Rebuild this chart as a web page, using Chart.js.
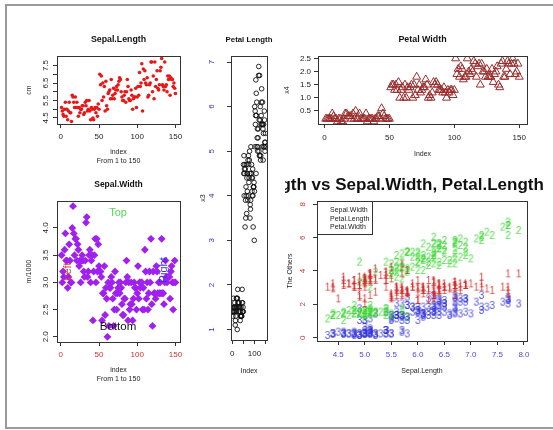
<!DOCTYPE html>
<html>
<head>
<meta charset="utf-8">
<script src="https://cdn.jsdelivr.net/npm/chart.js@4"></script>
<style>
  html, body { margin: 0; padding: 0; background: #fff; }
  #page { position: relative; width: 553px; height: 430px; overflow: hidden; }
  #frame { position: absolute; left: 5px; top: 4px; width: 600px; height: 421px; border: 2px solid #9a9a9a; }
  canvas { position: absolute; }
</style>
</head>
<body>
<div id="page">
  <div id="frame"></div>
  <canvas id="c1"></canvas>
  <canvas id="c2"></canvas>
  <canvas id="c3"></canvas>
  <canvas id="c4"></canvas>
  <canvas id="c5"></canvas>
</div>
<script>
// iris measurements, rows 1..150
const sepalLength = [
  5.1,4.9,4.7,4.6,5.0,5.4,4.6,5.0,4.4,4.9, 5.4,4.8,4.8,4.3,5.8,5.7,5.4,5.1,5.7,5.1,
  5.4,5.1,4.6,5.1,4.8,5.0,5.0,5.2,5.2,4.7, 4.8,5.4,5.2,5.5,4.9,5.0,5.5,4.9,4.4,5.1,
  5.0,4.5,4.4,5.0,5.1,4.8,5.1,4.6,5.3,5.0, 7.0,6.4,6.9,5.5,6.5,5.7,6.3,4.9,6.6,5.2,
  5.0,5.9,6.0,6.1,5.6,6.7,5.6,5.8,6.2,5.6, 5.9,6.1,6.3,6.1,6.4,6.6,6.8,6.7,6.0,5.7,
  5.5,5.5,5.8,6.0,5.4,6.0,6.7,6.3,5.6,5.5, 5.5,6.1,5.8,5.0,5.6,5.7,5.7,6.2,5.1,5.7,
  6.3,5.8,7.1,6.3,6.5,7.6,4.9,7.3,6.7,7.2, 6.5,6.4,6.8,5.7,5.8,6.4,6.5,7.7,7.7,6.0,
  6.9,5.6,7.7,6.3,6.7,7.2,6.2,6.1,6.4,7.2, 7.4,7.9,6.4,6.3,6.1,7.7,6.3,6.4,6.0,6.9,
  6.7,6.9,5.8,6.8,6.7,6.7,6.3,6.5,6.2,5.9
];
const sepalWidth = [
  3.5,3.0,3.2,3.1,3.6,3.9,3.4,3.4,2.9,3.1, 3.7,3.4,3.0,3.0,4.0,4.4,3.9,3.5,3.8,3.8,
  3.4,3.7,3.6,3.3,3.4,3.0,3.4,3.5,3.4,3.2, 3.1,3.4,4.1,4.2,3.1,3.2,3.5,3.6,3.0,3.4,
  3.5,2.3,3.2,3.5,3.8,3.0,3.8,3.2,3.7,3.3, 3.2,3.2,3.1,2.3,2.8,2.8,3.3,2.4,2.9,2.7,
  2.0,3.0,2.2,2.9,2.9,3.1,3.0,2.7,2.2,2.5, 3.2,2.8,2.5,2.8,2.9,3.0,2.8,3.0,2.9,2.6,
  2.4,2.4,2.7,2.7,3.0,3.4,3.1,2.3,3.0,2.5, 2.6,3.0,2.6,2.3,2.7,3.0,2.9,2.9,2.5,2.8,
  3.3,2.7,3.0,2.9,3.0,3.0,2.5,2.9,2.5,3.6, 3.2,2.7,3.0,2.5,2.8,3.2,3.0,3.8,2.6,2.2,
  3.2,2.8,2.8,2.7,3.3,3.2,2.8,3.0,2.8,3.0, 2.8,3.8,2.8,2.8,2.6,3.0,3.4,3.1,3.0,3.1,
  3.1,3.1,2.7,3.2,3.3,3.0,2.5,3.0,3.4,3.0
];
const petalLength = [
  1.4,1.4,1.3,1.5,1.4,1.7,1.4,1.5,1.4,1.5, 1.5,1.6,1.4,1.1,1.2,1.5,1.3,1.4,1.7,1.5,
  1.7,1.5,1.0,1.7,1.9,1.6,1.6,1.5,1.4,1.6, 1.6,1.5,1.5,1.4,1.5,1.2,1.3,1.4,1.3,1.5,
  1.3,1.3,1.3,1.6,1.9,1.4,1.6,1.4,1.5,1.4, 4.7,4.5,4.9,4.0,4.6,4.5,4.7,3.3,4.6,3.9,
  3.5,4.2,4.0,4.7,3.6,4.4,4.5,4.1,4.5,3.9, 4.8,4.0,4.9,4.7,4.3,4.4,4.8,5.0,4.5,3.5,
  3.8,3.7,3.9,5.1,4.5,4.5,4.7,4.4,4.1,4.0, 4.4,4.6,4.0,3.3,4.2,4.2,4.2,4.3,3.0,4.1,
  6.0,5.1,5.9,5.6,5.8,6.6,4.5,6.3,5.8,6.1, 5.1,5.3,5.5,5.0,5.1,5.3,5.5,6.7,6.9,5.0,
  5.7,4.9,6.7,4.9,5.7,6.0,4.8,4.9,5.6,5.8, 6.1,6.4,5.6,5.1,5.6,6.1,5.6,5.5,4.8,5.4,
  5.6,5.1,5.1,5.9,5.7,5.2,5.0,5.2,5.4,5.1
];
const petalWidth = [
  0.2,0.2,0.2,0.2,0.2,0.4,0.3,0.2,0.2,0.1, 0.2,0.2,0.1,0.1,0.2,0.4,0.4,0.3,0.3,0.3,
  0.2,0.4,0.2,0.5,0.2,0.2,0.4,0.2,0.2,0.2, 0.2,0.4,0.1,0.2,0.2,0.2,0.2,0.1,0.2,0.2,
  0.3,0.3,0.2,0.6,0.4,0.3,0.2,0.2,0.2,0.2, 1.4,1.5,1.5,1.3,1.5,1.3,1.6,1.0,1.3,1.4,
  1.0,1.5,1.0,1.4,1.3,1.4,1.5,1.0,1.5,1.1, 1.8,1.3,1.5,1.2,1.3,1.4,1.4,1.7,1.5,1.0,
  1.1,1.0,1.2,1.6,1.5,1.6,1.5,1.3,1.3,1.3, 1.2,1.4,1.2,1.0,1.3,1.2,1.3,1.3,1.1,1.3,
  2.5,1.9,2.1,1.8,2.2,2.1,1.7,1.8,1.8,2.5, 2.0,1.9,2.1,2.0,2.4,2.3,1.8,2.2,2.3,1.5,
  2.3,2.0,2.0,1.8,2.1,1.8,1.8,1.8,2.1,1.6, 1.9,2.0,2.2,1.5,1.4,2.3,2.4,1.8,1.8,2.1,
  2.4,2.3,1.9,2.3,2.5,2.3,1.9,2.0,2.3,1.8
];

// tick positions and their labels ('' = tick mark only)
const indexTicks = [0, 50, 100, 150];
const indexLabels = ['0', '50', '100', '150'];
const indexLabelsSparse = ['0', '', '100', ''];
const slTicks = [4.5, 5, 5.5, 6, 6.5, 7, 7.5];
const slLabels = ['4.5', '', '5.5', '', '6.5', '', '7.5'];
const plTicks = [1, 2, 3, 4, 5, 6, 7];
const plLabels = ['1', '2', '3', '4', '5', '6', '7'];
const pwTicks = [0.5, 1, 1.5, 2, 2.5];
const pwLabels = ['0.5', '1.0', '1.5', '2.0', '2.5'];
const swTicks = [2, 2.5, 3, 3.5, 4];
const swLabels = ['2.0', '2.5', '3.0', '3.5', '4.0'];
const othersYTicks = [0, 2, 4, 6, 8];
const othersYLabels = ['0', '2', '4', '6', '8'];
const othersXTicks = [4.5, 5, 5.5, 6, 6.5, 7, 7.5, 8];
const othersXLabels = ['4.5', '5.0', '5.5', '6.0', '6.5', '7.0', '7.5', '8.0'];
const othersNames = ['Sepal.Width', 'Petal.Length', 'Petal.Width'];

const FONT = '"Liberation Sans", Arial, sans-serif';
Chart.defaults.font.family = FONT;
Chart.defaults.color = '#222';

const idx = sepalLength.map((_, i) => i + 1);
const byIndex = arr => arr.map((v, i) => ({ x: idx[i], y: v }));
const bySepalLength = arr => arr.map((v, i) => ({ x: sepalLength[i], y: v }));

// frame, main title, text notes and legend drawn like R's base graphics
const rDeco = {
  id: 'rDeco',
  afterDraw(chart, args, o) {
    const { ctx, chartArea: a } = chart;
    const w = a.right - a.left, h = a.bottom - a.top;
    ctx.save();
    ctx.strokeStyle = '#333';
    ctx.lineWidth = 1;
    ctx.strokeRect(Math.round(a.left) + 0.5, Math.round(a.top) + 0.5,
      Math.round(a.right) - Math.round(a.left), Math.round(a.bottom) - Math.round(a.top));
    if (o.title) {
      ctx.font = 'bold ' + o.title.size + 'px ' + FONT;
      ctx.fillStyle = '#111';
      ctx.textAlign = 'center';
      ctx.textBaseline = 'middle';
      ctx.fillText(o.title.text, a.left + w / 2 + (o.title.dx || 0), a.top - o.title.dy);
    }
    (o.notes || []).forEach(n => {
      ctx.save();
      ctx.translate(a.left + n.fx * w, a.top + n.fy * h);
      ctx.rotate((n.rot || 0) * Math.PI / 180);
      ctx.font = n.size + 'px ' + FONT;
      ctx.fillStyle = n.color;
      ctx.textAlign = 'center';
      ctx.textBaseline = 'middle';
      ctx.fillText(n.text, 0, 0);
      ctx.restore();
    });
    if (o.legend) {
      const g = o.legend;
      ctx.strokeRect(Math.round(a.left) + 0.5, Math.round(a.top) + 0.5, g.w, g.h);
      ctx.font = g.size + 'px ' + FONT;
      ctx.fillStyle = '#222';
      ctx.textAlign = 'left';
      ctx.textBaseline = 'middle';
      chart.data.datasets.forEach((d, i) => {
        ctx.fillText(d.label, a.left + g.dx, a.top + g.dy + i * g.step);
      });
    }
    ctx.restore();
  }
};
Chart.register(rDeco);

function xAxis(o) {
  return {
    type: 'linear', position: 'bottom', min: o.min, max: o.max,
    afterBuildTicks: s => { s.ticks = o.ticks.map(v => ({ value: v })); },
    afterFit: s => { s.height = o.h; s.paddingLeft = 0; s.paddingRight = 0; },
    grid: { drawOnChartArea: false, drawTicks: true, tickLength: 4, color: '#333', tickColor: '#333' },
    border: { display: false },
    ticks: {
      autoSkip: false, maxRotation: 0, minRotation: 0, padding: o.pad,
      color: o.color || '#222', font: { size: o.size || 8 },
      callback: (v, i) => o.labels[i]
    },
    title: { display: true, text: o.title, color: '#222', padding: 0, font: { size: 7, lineHeight: 1.33 } }
  };
}

function yAxis(o) {
  const rot = o.rot === undefined ? 90 : o.rot;
  return {
    type: 'linear', position: 'left', min: o.min, max: o.max,
    afterBuildTicks: s => { s.ticks = o.ticks.map(v => ({ value: v })); },
    afterFit: s => { s.width = o.w; s.paddingTop = 0; s.paddingBottom = 0; },
    grid: { drawOnChartArea: false, drawTicks: true, tickLength: 4, color: '#333', tickColor: '#333' },
    border: { display: false },
    ticks: {
      autoSkip: false, minRotation: rot, maxRotation: rot, padding: o.pad,
      crossAlign: rot ? 'center' : 'near',
      color: o.color || '#222', font: { size: 8 },
      callback: (v, i) => o.labels[i]
    },
    title: { display: true, text: o.title, color: '#222', padding: 0, font: { size: 7, lineHeight: 1.33 } }
  };
}

// rect = canvas [left, top, width, height]; area = plot box [left, top, right, bottom]
function panel(id, rect, area, x, y, datasets, deco) {
  const cv = document.getElementById(id);
  cv.width = rect[2];
  cv.height = rect[3];
  cv.style.left = rect[0] + 'px';
  cv.style.top = rect[1] + 'px';
  cv.style.width = rect[2] + 'px';
  cv.style.height = rect[3] + 'px';
  return new Chart(cv, {
    type: 'scatter',
    data: { datasets },
    options: {
      responsive: false,
      animation: false,
      events: [],
      layout: {
        padding: {
          left: area[0] - rect[0] - y.w,
          top: area[1] - rect[1],
          right: rect[0] + rect[2] - area[2],
          bottom: rect[1] + rect[3] - area[3] - x.h
        }
      },
      scales: { x: xAxis(x), y: yAxis(y) },
      plugins: { legend: { display: false }, tooltip: { enabled: false }, rDeco: deco }
    }
  });
}

// digit markers for the last panel
function glyph(ch, color) {
  const c = document.createElement('canvas');
  c.width = 9;
  c.height = 12;
  const g = c.getContext('2d');
  g.font = '10px ' + FONT;
  g.fillStyle = color;
  g.textAlign = 'center';
  g.textBaseline = 'middle';
  g.fillText(ch, 4.5, 6);
  return c;
}

// Sepal.Length
panel('c1', [10, 25, 180, 145], [57, 56, 180, 124],
  { min: -4.96, max: 155.96, ticks: indexTicks, labels: indexLabels, pad: 4.2, h: 42, title: ['index', 'From 1 to 150'] },
  { min: 4.156, max: 8.044, ticks: slTicks, labels: slLabels, pad: 1.4, w: 32.5, title: 'cm' },
  [{ data: byIndex(sepalLength), pointStyle: 'circle', pointRadius: 1.8, borderWidth: 0, backgroundColor: '#e81818' }],
  { title: { text: 'Sepal.Length', size: 8.8, dy: 16 } });

// Petal Length
panel('c2', [190, 25, 90, 355], [231, 56, 267, 340],
  { min: -4.96, max: 155.96, ticks: indexTicks, labels: indexLabelsSparse, pad: 5.2, h: 35.5, title: 'Index' },
  { min: 0.764, max: 7.136, ticks: plTicks, labels: plLabels, pad: 12.8, w: 32.2, title: 'x3', color: '#3030cc' },
  [{ data: byIndex(petalLength), pointStyle: 'circle', pointRadius: 2.3, borderWidth: 0.9, borderColor: '#111', backgroundColor: 'rgba(0,0,0,0)' }],
  { title: { text: 'Petal Length', size: 7.8, dy: 16 } });

// Petal Width
panel('c3', [280, 25, 270, 145], [318, 56, 527, 124],
  { min: -4.96, max: 155.96, ticks: indexTicks, labels: indexLabels, pad: 4.5, h: 34.5, title: 'Index' },
  { min: 0.004, max: 2.596, ticks: pwTicks, labels: pwLabels, pad: 3, w: 35.5, title: 'x4', rot: 0 },
  [{ data: byIndex(petalWidth), pointStyle: 'triangle', pointRadius: 4.6, borderWidth: 1, borderColor: '#9a2c2c', backgroundColor: 'rgba(0,0,0,0)' }],
  { title: { text: 'Petal Width', size: 8.9, dy: 16 } });

// Sepal.Width
panel('c4', [10, 170, 180, 225], [57, 201, 180, 342],
  { min: -4.96, max: 155.96, ticks: indexTicks, labels: indexLabels, pad: 3.5, h: 41.8, title: ['index', 'From 1 to 150'], color: '#cc3030' },
  { min: 1.904, max: 4.496, ticks: swTicks, labels: swLabels, pad: 1.4, w: 32.2, title: 'm/1000' },
  [{ data: byIndex(sepalWidth), pointStyle: 'rectRot', pointRadius: 3.9, borderWidth: 0, backgroundColor: '#a020f0' }],
  {
    title: { text: 'Sepal.Width', size: 8.5, dy: 16 },
    notes: [
      { text: 'Top', color: '#55d855', size: 11, fx: 0.496, fy: 0.085 },
      { text: 'Bottom', color: '#111', size: 11.5, fx: 0.496, fy: 0.894 },
      { text: 'Left', color: '#dd3b3b', size: 11, fx: 0.087, fy: 0.5, rot: -90 },
      { text: 'Right', color: '#3535e8', size: 11, fx: 0.872, fy: 0.49, rot: -90 }
    ]
  });

// Sepal.Length vs the others
panel('c5', [285, 170, 268, 225], [317, 201, 527, 341],
  { min: 4.1, max: 8.057, ticks: othersXTicks, labels: othersXLabels, pad: 4.5, h: 34.5, title: 'Sepal.Length', color: '#4a4ad8' },
  { min: -0.2, max: 8.2, ticks: othersYTicks, labels: othersYLabels, pad: 7.5, w: 32, title: 'The Others', color: '#cc3838' },
  [
    { label: othersNames[0], data: bySepalLength(sepalWidth), pointStyle: glyph('1', 'rgba(212,40,40,0.85)'), pointRadius: 3 },
    { label: othersNames[1], data: bySepalLength(petalLength), pointStyle: glyph('2', 'rgba(60,214,50,0.85)'), pointRadius: 3 },
    { label: othersNames[2], data: bySepalLength(petalWidth), pointStyle: glyph('3', 'rgba(50,50,215,0.85)'), pointRadius: 3 }
  ],
  {
    title: { text: 'Sepal.Length vs Sepal.Width, Petal.Length', size: 17, dy: 15.7, dx: -50 },
    legend: { w: 55, h: 33, dx: 13, dy: 9, step: 8.7, size: 7 }
  });
</script>
</body>
</html>
